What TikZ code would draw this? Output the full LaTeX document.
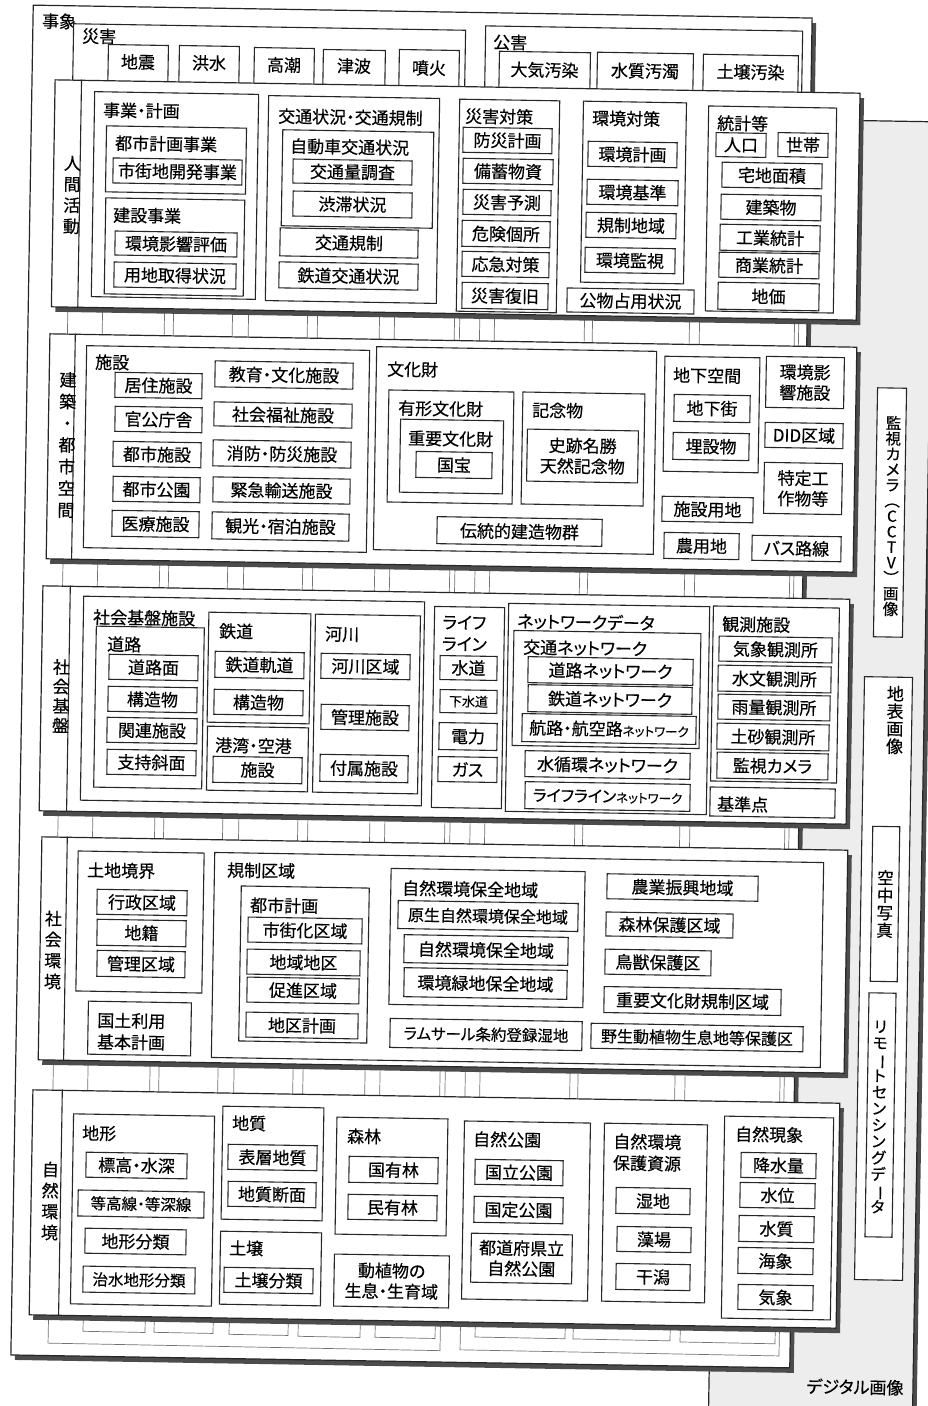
\documentclass[tikz,border=0pt]{standalone}
\usepackage{fontspec}
\setmainfont{Noto Sans CJK JP}[RawFeature=+palt, FakeBold=0.4]
\usepackage{graphicx}
\usetikzlibrary{shadows,calc}
\newcommand\vbar{\rotatebox[origin=c]{-90}{ー}}
\newcommand\tightls{\lineskiplimit=-20pt\relax}
\newcommand\boxN[6]{\node[bx,minimum width=#4pt,minimum height=#5pt] (#1) at (#2,#3) {#6};}
\newcommand\grpN[5]{\node[grp,minimum width=#4pt,minimum height=#5pt] (#1) at (#2,#3) {};}
\newcommand\lblN[4]{\node[lbl] (#1) at (#2,#3) {#4};}
\newcommand\ctN[4]{\node[ctx] (#1) at (#2,#3) {#4};}
\newcommand\cardN[5]{\node[card,minimum width=#4pt,minimum height=#5pt] (#1) at (#2,#3) {};}
\newcommand\colN[5]{\node[colbox,minimum width=#4pt,minimum height=#5pt] (#1) at (#2,#3) {};}
\newcommand\divN[2]{\draw[divline] ($(#1.north west)!#2pt!(#1.north east)$) -- ($(#1.south west)!#2pt!(#1.south east)$);}
\tikzset{
 tilt/.style={rotate=-0.95},
 bx/.style={draw=black!85, fill=white, line width=1.1pt, inner sep=0pt, align=center, tilt, font=\fontsize{17}{20.5}\selectfont},
 grp/.style={draw=black!85, fill=white, line width=1.1pt, inner sep=0pt, tilt},
 lbl/.style={inner sep=0pt, anchor=west, align=left, tilt, font=\fontsize{17}{21.5}\selectfont},
 ctx/.style={inner sep=0pt, align=center, tilt, font=\fontsize{17}{20.5}\selectfont},
 vlbl/.style={inner sep=0pt, align=center, tilt, font=\fontsize{17}{21}\selectfont\tightls},
 card/.style={draw=black!85, fill=white, line width=1.2pt, inner sep=0pt, tilt, drop shadow={shadow xshift=4pt, shadow yshift=-5pt, opacity=1, fill=black!70}},
 panel/.style={draw=black!85, fill=black!7, line width=1.2pt, inner sep=0pt, tilt, drop shadow={shadow xshift=4pt, shadow yshift=-5pt, opacity=1, fill=black!70}},
 colbox/.style={draw=black!55, fill=white, line width=0.7pt, inner sep=0pt, rotate=-1.1},
 divline/.style={draw=black!85, line width=1.1pt},
}
\begin{document}
\begin{tikzpicture}[x=1pt,y=-1pt]
\useasboundingbox (0,0) rectangle (927,1406);
\fill[white] (0,0) rectangle (927,1406);

% ---------- digital image panel ----------
\node[panel, minimum width=204pt, minimum height=1320pt] (dig) at (821,780) {};
\ctN{tdig}{855}{1387}{デジタル画像}
\boxN{cctv}{890}{512.5}{29}{249}{}
\node[vlbl, font=\fontsize{15.5}{15.5}\selectfont\tightls] (tcctv) at (892,516) {監\\視\\カ\\メ\\ラ\\︵\\C\\C\\T\\V\\︶\\画\\像};
\boxN{chihyo}{883.5}{978.5}{48}{603}{}
\node[vlbl, font=\fontsize{17}{17.5}\selectfont\tightls] (tchihyo) at (895,720) {地\\表\\画\\像};
\boxN{kuchu}{885}{904}{27}{155}{}
\node[vlbl, font=\fontsize{16.5}{17.5}\selectfont\tightls] (tkuchu) at (885,904) {空\\中\\写\\真};
\boxN{rs}{880.5}{1115}{27}{244}{}
\node[vlbl, font=\fontsize{15.5}{16.4}\selectfont\tightls] (trs) at (879,1117) {リ\\モ\\\vbar\\ト\\セ\\ン\\シ\\ン\\グ\\デ\\\vbar\\タ};

% ---------- 事象 (back card) ----------
\cardN{jsh}{411.5}{686.5}{779}{1350}
\lblN{tjsh}{42}{21}{事象}
\grpN{sg}{269}{65}{392}{76}
\lblN{tsg}{82}{36}{災害}
\grpN{sg1}{138}{72.5}{60}{55} \ctN{tsg1}{138}{62}{地震}
\grpN{sg2}{209}{73}{60}{54} \ctN{tsg2}{209}{63}{洪水}
\grpN{sg3}{284}{74}{60}{52} \ctN{tsg3}{284}{65}{高潮}
\grpN{sg4}{354}{75}{62}{50} \ctN{tsg4}{354}{66}{津波}
\grpN{sg5}{429}{75}{60}{50} \ctN{tsg5}{429}{68}{噴火}
\grpN{kg}{643.5}{70}{317}{83}
\lblN{tkg}{493}{42}{公害}
\grpN{kg1}{544.5}{81}{91}{58} \ctN{tkg1}{544.5}{70}{大気汚染}
\grpN{kg2}{645}{81.5}{96}{57} \ctN{tkg2}{645}{71}{水質汚濁}
\grpN{kg3}{750.5}{82.5}{95}{55} \ctN{tkg3}{750.5}{72}{土壌汚染}

% ---------- frames and columns behind the layers ----------
\colN{frL}{255.7}{737}{392}{1220}
\colN{frR}{631.2}{743}{319}{1220}
\colN{c1}{125.7}{722}{62}{1220}
\colN{c2}{195.2}{723}{59}{1220}
\colN{c3}{270.2}{725}{59}{1220}
\colN{c4}{340.7}{727}{62}{1220}
\colN{c5}{416.7}{728}{60}{1220}
\colN{c6}{531.7}{728}{90}{1220}
\colN{c7}{633.2}{730}{97}{1220}
\colN{c8}{739.2}{733}{95}{1220}

% ---------- 人間活動 ----------
\cardN{L1}{455.7}{200}{805}{227}
\divN{L1}{27}
\node[vlbl] (tL1) at (72,195) {人\\間\\活\\動};
\grpN{a1}{175}{195.5}{164}{205} \lblN{ta1}{103}{110}{事業・計画}
\grpN{a11}{176}{160}{140}{66} \lblN{ta11}{115}{143}{都市計画事業}
\boxN{a111}{177.5}{171.5}{129}{25}{市街地開発事業}
\grpN{a12}{174.5}{247}{139}{96} \lblN{ta12}{113}{215}{建設事業}
\boxN{a121}{176}{244}{122}{24}{環境影響評価}
\boxN{a122}{175}{275.5}{122}{25}{用地取得状況}
\grpN{a2}{352.5}{199.5}{171}{205} \lblN{ta2}{278}{116}{交通状況・交通規制}
\grpN{a21}{357.5}{179}{151}{96} \lblN{ta21}{290}{146}{自動車交通状況}
\boxN{a211}{352.5}{172}{119}{24}{交通量調査}
\boxN{a212}{352.5}{204.5}{119}{25}{渋滞状況}
\boxN{a22}{349}{243}{138}{28}{交通規制}
\boxN{a23}{348.5}{276}{139}{26}{鉄道交通状況}
\grpN{a3}{508}{206}{100}{212} \lblN{ta3}{465}{116}{災害対策}
\boxN{a31}{507.5}{140.5}{89}{25}{防災計画}
\boxN{a32}{508}{171.5}{90}{25}{備蓄物資}
\boxN{a33}{507}{202.5}{88}{25}{災害予測}
\boxN{a34}{506}{234}{88}{26}{危険個所}
\boxN{a35}{505.5}{264.5}{87}{25}{応急対策}
\boxN{a36}{505}{296}{86}{26}{災害復旧}
\grpN{a4}{633.5}{192.5}{103}{181} \lblN{ta4}{592}{118}{環境対策}
\boxN{a41}{632.5}{154.5}{89}{25}{環境計画}
\boxN{a42}{632.5}{192.5}{91}{25}{環境基準}
\boxN{a43}{631}{225.5}{90}{25}{規制地域}
\boxN{a44}{630}{260.5}{90}{25}{環境監視}
\boxN{a5}{630.5}{301}{127}{24}{公物占用状況}
\grpN{a6}{771}{209.5}{128}{205} \lblN{ta6}{717}{123}{統計等}
\boxN{a61}{741}{145}{50}{24}{人口}
\boxN{a62}{803}{145}{50}{24}{世帯}
\boxN{a63}{772}{175.5}{100}{25}{宅地面積}
\boxN{a64}{771}{207.5}{100}{25}{建築物}
\boxN{a65}{770}{238}{100}{26}{工業統計}
\boxN{a66}{769}{265.5}{100}{25}{商業統計}
\boxN{a67}{768.5}{296.5}{101}{27}{地価}

% ---------- 建築・都市空間 ----------
\cardN{L2}{451.5}{453}{807}{225}
\divN{L2}{26}
\node[vlbl, font=\fontsize{17}{21.7}\selectfont] (tL2) at (67,445) {建\\築\\・\\都\\市\\空\\間};
\grpN{b1}{226.5}{449}{283}{202} \lblN{tb1}{95}{362}{施設}
\boxN{b11}{158.5}{385.5}{87}{25}{居住施設}
\boxN{b12}{158.5}{419.5}{87}{25}{官公庁舎}
\boxN{b13}{157}{454.5}{88}{25}{都市施設}
\boxN{b14}{156.5}{489.5}{87}{25}{都市公園}
\boxN{b15}{155.5}{524}{87}{26}{医療施設}
\boxN{b16}{284}{375}{138}{26}{教育・文化施設}
\boxN{b17}{283}{415}{138}{24}{社会福祉施設}
\boxN{b18}{282}{454}{138}{26}{消防・防災施設}
\boxN{b19}{281.5}{490.5}{137}{25}{緊急輸送施設}
\boxN{b10}{280.5}{526.5}{137}{27}{観光・宿泊施設}
\grpN{b2}{515}{450.5}{280}{203} \lblN{tb2}{387}{369}{文化財}
\grpN{b21}{450.5}{447}{125}{112} \lblN{tb21}{398}{408}{有形文化財}
\grpN{b211}{451.5}{456.5}{103}{73} \lblN{tb211}{408}{438}{重要文化財}
\boxN{b2111}{454}{465}{76}{26}{国宝}
\grpN{b22}{583}{449}{122}{112} \lblN{tb22}{532}{410}{記念物}
\boxN{b221}{582.5}{456}{111}{52}{史跡名勝\\天然記念物}
\boxN{b23}{519.5}{531.5}{165}{27}{伝統的建造物群}
\grpN{b3}{711.5}{414.5}{95}{115} \lblN{tb3}{673}{375}{地下空間}
\boxN{b31}{712}{408.5}{76}{27}{地下街}
\boxN{b32}{711}{446.5}{76}{27}{埋設物}
\boxN{b4}{707.5}{509.5}{91}{25}{施設用地}
\boxN{b5}{701.5}{546}{75}{26}{農用地}
\boxN{b6}{805}{382.5}{78}{51}{環境影\\響施設}
\boxN{b7}{804}{435.5}{78}{25}{DID区域}
\boxN{b8}{803}{488.5}{78}{51}{特定工\\作物等}
\boxN{b9}{796.5}{548.5}{89}{25}{バス路線}

% ---------- 社会基盤 ----------
\cardN{L3}{444.5}{705}{807}{225}
\divN{L3}{28}
\node[vlbl, font=\fontsize{17}{19.5}\selectfont] (tL3) at (61,696) {社\\会\\基\\盤};
\grpN{c0}{252.5}{701}{341}{204} \lblN{tc0}{93}{617}{社会基盤施設}
\grpN{d1}{149}{707.5}{108}{161} \lblN{td1}{107}{644}{道路}
\boxN{d11}{153.5}{667.5}{89}{25}{道路面}
\boxN{d12}{152.5}{699.5}{89}{25}{構造物}
\boxN{d13}{152}{730.5}{90}{25}{関連施設}
\boxN{d14}{151.5}{762.5}{89}{25}{支持斜面}
\grpN{d2}{259}{668}{102}{110} \lblN{td2}{219}{631}{鉄道}
\boxN{d21}{259.5}{665}{89}{26}{鉄道軌道}
\boxN{d22}{258.5}{702.5}{89}{25}{構造物}
\grpN{d3}{257.5}{759}{101}{64} \lblN{td3}{215}{745}{港湾・空港}
\boxN{d31}{257.5}{770}{89}{26}{施設}
\grpN{d4}{366.5}{704}{105}{178} \lblN{td4}{325}{634}{河川}
\boxN{d41}{365.5}{666.5}{89}{25}{河川区域}
\boxN{d42}{365}{717.5}{88}{25}{管理施設}
\boxN{d43}{364}{768.5}{88}{27}{付属施設}
\grpN{d5}{468}{707.5}{70}{201} \lblN{td5}{442}{633}{ライフ\\ライン}
\boxN{d51}{468.5}{668}{57}{24}{水道}
\boxN{d52}{468.5}{701.5}{57}{23}{\fontsize{13}{15}\selectfont 下水道}
\boxN{d53}{468}{736.5}{58}{27}{電力}
\boxN{d54}{467.5}{769.5}{59}{25}{ガス}
\grpN{d6}{607.5}{709}{201}{208} \lblN{td6}{517}{621}{ネットワークデータ}
\grpN{d61}{606.5}{689.5}{187}{115} \lblN{td61}{523}{647}{交通ネットワーク}
\boxN{d611}{610.5}{671}{165}{26}{道路ネットワーク}
\boxN{d612}{610}{699.5}{164}{27}{鉄道ネットワーク}
\boxN{d613}{609}{729}{174}{28}{航路・航空路{\fontsize{12.5}{15}\selectfont ネットワーク}}
\boxN{d62}{607.5}{765}{165}{26}{水循環ネットワーク}
\boxN{d63}{607.5}{796.5}{165}{27}{{\fontsize{16}{18}\selectfont ライフライン}{\fontsize{12.5}{15}\selectfont ネットワーク}}
\grpN{d7}{775}{694.5}{126}{175} \lblN{td7}{722}{624}{観測施設}
\boxN{d71}{775.5}{649.5}{113}{25}{気象観測所}
\boxN{d72}{774.5}{679}{113}{26}{水文観測所}
\boxN{d73}{774}{707.5}{112}{25}{雨量観測所}
\boxN{d74}{773}{737}{112}{26}{土砂観測所}
\boxN{d75}{772.5}{766}{111}{26}{監視カメラ}
\grpN{d8}{772.5}{802.5}{125}{29} \lblN{td8}{717}{804}{基準点}

% ---------- 社会環境 ----------
\cardN{L4}{443}{955}{806}{223}
\divN{L4}{26}
\node[vlbl] (tL4) at (53,950) {社\\会\\環\\境};
\grpN{e1}{140}{922}{126}{140} \lblN{te1}{87}{870}{土地境界}
\boxN{e11}{142}{902.5}{90}{25}{行政区域}
\boxN{e12}{141.5}{933}{89}{26}{地籍}
\boxN{e13}{141}{964}{88}{26}{管理区域}
\grpN{e2}{139.5}{1028.5}{103}{53} \lblN{te2}{97}{1031}{国土利用\\基本計画}
\grpN{f0}{517.5}{960}{609}{205} \lblN{tf0}{227}{870}{規制区域}
\grpN{f1}{304}{964.5}{128}{155} \lblN{tf1}{250}{905}{都市計画}
\boxN{f11}{305}{930.5}{114}{25}{市街化区域}
\boxN{f12}{303.5}{962.5}{113}{25}{地域地区}
\boxN{f13}{303}{990.5}{112}{25}{促進区域}
\boxN{f14}{302}{1025.5}{112}{25}{地区計画}
\grpN{f2}{487}{938}{194}{136} \lblN{tf2}{402}{888}{自然環境保全地域}
\boxN{f21}{488}{916}{180}{28}{\fontsize{16}{18}\selectfont 原生自然環境保全地域}
\boxN{f22}{486}{950}{164}{28}{自然環境保全地域}
\boxN{f23}{485.5}{983.5}{163}{29}{環境緑地保全地域}
\boxN{f3}{486}{1034.5}{192}{29}{\fontsize{15.5}{18}\selectfont ラムサール条約登録湿地}
\boxN{f4}{682.5}{887.5}{151}{25}{農業振興地域}
\boxN{f5}{669.5}{925}{127}{24}{森林保護区域}
\boxN{f6}{658}{962.5}{106}{25}{鳥獣保護区}
\boxN{f7}{692.5}{1001}{177}{26}{重要文化財規制区域}
\boxN{f8}{697}{1037.5}{212}{25}{\fontsize{16}{18}\selectfont 野生動植物生息地等保護区}

% ---------- 自然環境 ----------
\cardN{L5}{434.5}{1209}{807}{225}
\divN{L5}{30}
\node[vlbl] (tL5) at (50,1201) {自\\然\\環\\境};
\grpN{g1}{142.5}{1210}{141}{190} \lblN{tg1}{82}{1133}{地形}
\boxN{g11}{136.5}{1165.5}{101}{25}{標高・水深}
\boxN{g12}{141}{1204}{126}{26}{\fontsize{15.5}{18}\selectfont 等高線・等深線}
\boxN{g13}{135.5}{1241.5}{101}{25}{地形分類}
\boxN{g14}{139}{1280}{112}{26}{\fontsize{15.5}{18}\selectfont 治水地形分類}
\grpN{g2}{272.5}{1163.5}{101}{113} \lblN{tg2}{232}{1123}{地質}
\boxN{g21}{272.5}{1157.5}{89}{25}{表層地質}
\boxN{g22}{272}{1194.5}{88}{25}{地質断面}
\grpN{g3}{270.5}{1268.5}{101}{73} \lblN{tg3}{229}{1248}{土壌}
\boxN{g31}{268.5}{1280.5}{89}{25}{土壌分類}
\grpN{g4}{391.5}{1176.5}{111}{117} \lblN{tg4}{347}{1136}{森林}
\boxN{g41}{393.5}{1170}{89}{26}{国有林}
\boxN{g42}{392.5}{1207.5}{89}{25}{民有林}
\boxN{g5}{391.5}{1281}{115}{52}{動植物の\\生息・生育域}
\grpN{g6}{526}{1211}{126}{178} \lblN{tg6}{473}{1139}{自然公園}
\boxN{g61}{519}{1172.5}{88}{25}{国立公園}
\boxN{g62}{518.5}{1210}{89}{26}{国定公園}
\boxN{g63}{521.5}{1258.5}{101}{49}{都道府県立\\自然公園}
\grpN{g7}{654.5}{1213}{103}{178} \lblN{tg7}{613}{1152}{自然環境\\保護資源}
\boxN{g71}{653}{1201}{74}{26}{湿地}
\boxN{g72}{654}{1239.5}{74}{25}{藻場}
\boxN{g73}{653}{1277}{74}{26}{干潟}
\grpN{g8}{777.5}{1218}{109}{202} \lblN{tg8}{735}{1134}{自然現象}
\boxN{g81}{778.5}{1165.5}{75}{25}{降水量}
\boxN{g82}{777.5}{1195.5}{75}{25}{水位}
\boxN{g83}{776.5}{1229}{75}{26}{水質}
\boxN{g84}{775.5}{1261}{75}{26}{海象}
\boxN{g85}{775.5}{1297.5}{75}{25}{気象}
\end{tikzpicture}
\end{document}
